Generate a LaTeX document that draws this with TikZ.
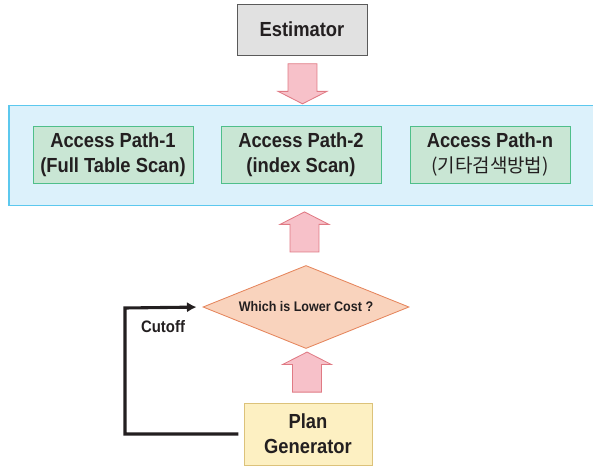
\documentclass[tikz,border=0pt]{standalone}
\usepackage{fontspec}
\setmainfont[FakeStretch=0.9]{Liberation Sans}
\newfontfamily\kr{Noto Sans CJK KR}
\usetikzlibrary{shapes.geometric,shapes.arrows,calc,arrows.meta}
\definecolor{txtDark}{HTML}{231F20}
\definecolor{estFill}{HTML}{E1E1E1}
\definecolor{estLine}{HTML}{5A5A5A}
\definecolor{arrFill}{HTML}{F7C1C9}
\definecolor{arrLine}{HTML}{E07A84}
\definecolor{panFill}{HTML}{DCF1FB}
\definecolor{panLine}{HTML}{5CC8EE}
\definecolor{apFill}{HTML}{C9E6D4}
\definecolor{apLine}{HTML}{4FBF8A}
\definecolor{decFill}{HTML}{F9D3BD}
\definecolor{decLine}{HTML}{E5855C}
\definecolor{genFill}{HTML}{FDF0C2}
\definecolor{genLine}{HTML}{DCC27A}
\begin{document}
\begin{tikzpicture}
        [x=0.025cm, y=-0.025cm,
        box/.style={rectangle, draw, line width=0.6pt, inner sep=0pt, align=center, text=txtDark,
            font=\fontsize{14.5}{18}\selectfont\bfseries},
        boxGray/.style={box, fill=estFill, draw=estLine, minimum width=3.25cm, minimum height=1.275cm},
        pathBox/.style={box, fill=apFill, draw=apLine, minimum width=4cm, minimum height=1.425cm},
        genBox/.style={box, fill=genFill, draw=genLine, minimum width=3.2cm, minimum height=1.55cm},
        panel/.style={rectangle, draw=panLine, fill=panFill, line width=0.9pt, minimum width=14.7cm, minimum height=2.5cm},
        decision/.style={diamond, draw=decLine, fill=decFill, line width=0.6pt, inner sep=0pt, aspect=2.48,
            minimum width=5.15cm, minimum height=2.075cm, text=txtDark, font=\fontsize{9.9}{12}\selectfont\bfseries},
        bigArrow/.style={single arrow, draw=arrLine, fill=arrFill, line width=0.6pt, inner xsep=0pt, inner ysep=0.35cm,
            minimum height=1cm, single arrow head extend=0.25cm, single arrow tip angle=126},
        cutLine/.style={line width=2.2pt, draw=txtDark, -{Latex[length=2.4mm, width=2.6mm]}}]
        \useasboundingbox (0,0) rectangle (593,466);

        \node[boxGray] (est) at (302,29.5) {Estimator};
        \node[panel] (panel) at (303,155.5) {};
        \node[pathBox] (ap1) at (113,154.5) {Access Path-1\\(Full Table Scan)};
        \node[pathBox] (ap2) at (301,154.5) {Access Path-2\\(index Scan)};
        \node[pathBox] (apn) at (490,154.5) {Access Path-n\\{\kr\mdseries\fontsize{13.5}{18}\selectfont(기타검색방법)}};
        \node[decision] (dec) at (306,307) {Which is Lower Cost ?};
        \node[genBox] (gen) at (308,434) {Plan\\Generator};
        \coordinate (corner) at (125,308);
        \node[text=txtDark, font=\fontsize{11.8}{14}\selectfont\bfseries] (cut) at (163,327) {Cutoff};

        \node[bigArrow, rotate=-90] (arr1) at ($(est.south)!0.5!(panel.north)$) {};
        \node[bigArrow, rotate=90] (arr2) at ($(panel.south)!0.5!(dec.north)$) {};
        \node[bigArrow, rotate=90] (arr3) at ($(dec.south)!0.5!(gen.north)$) {};

        \draw[cutLine, shorten <=0.13cm, shorten >=0.15cm] (gen.west) -- (gen.west -| corner) -- (corner) -- (dec.west);
    \end{tikzpicture}
\end{document}
